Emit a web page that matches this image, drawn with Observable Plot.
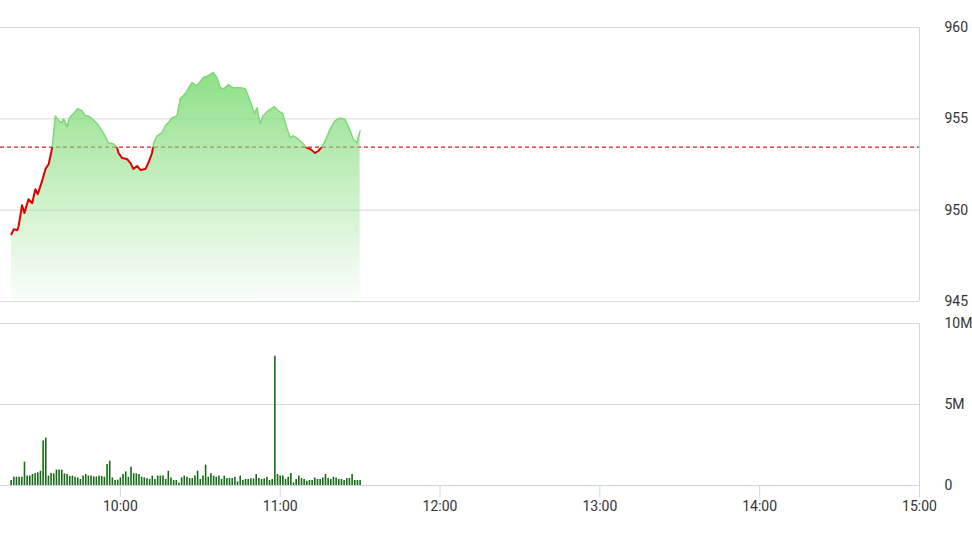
<!DOCTYPE html>
<html>
<head>
<meta charset="utf-8">
<script src="https://cdn.jsdelivr.net/npm/d3@7"></script>
<script src="https://cdn.jsdelivr.net/npm/@observablehq/plot@0.6"></script>
<style>
  body { margin: 0; background: #fff; }
  #chart svg { display: block; }
</style>
</head>
<body>
<div id="chart"></div>
<script>
// ---- data (time = minutes after 09:00) ----
const priceMinute = [19.1,20.0,21.3,21.8,23.1,24.0,25.5,26.9,28.1,29.0,
  30.6,31.9,33.1,34.4,35.6,36.9,38.1,38.7,40.0,40.9,
  42.4,44.0,45.6,46.9,48.0,49.4,51.3,53.6,55.5,57.4,
  58.8,59.3,60.6,62.5,63.8,64.9,66.3,67.5,69.4,70.5,
  71.9,72.5,73.8,75.6,76.9,78.0,79.4,81.3,82.5,84.4,
  86.9,88.8,91.1,93.0,94.9,96.3,97.5,99.0,100.5,102.4,
  105.0,106.9,108.0,109.4,110.3,111.3,112.5,113.6,115.5,117.8,
  119.3,121.0,122.6,123.8,124.9,126.8,128.6,130.0,131.3,133.1,
  134.3,135.6,136.9,138.8,140.6,142.5,144.4,146.3,147.4,148.8,150.0];
const priceValue = [948.68,948.96,948.90,949.12,950.27,949.84,950.60,950.38,951.15,950.88,
  951.59,952.25,952.53,953.41,955.16,954.89,954.78,955.00,954.56,955.05,
  955.27,955.55,955.44,955.16,955.16,955.00,954.73,954.23,953.68,953.63,
  953.41,953.13,952.86,952.80,952.58,952.25,952.42,952.20,952.25,952.58,
  953.13,953.68,954.07,954.23,954.62,954.78,955.05,955.16,956.10,956.37,
  956.98,956.81,957.25,957.36,957.53,957.25,956.70,956.65,956.87,956.70,
  956.70,956.65,956.26,955.71,955.27,955.60,954.73,955.16,955.44,955.66,
  955.44,955.27,954.45,953.96,954.07,953.90,953.63,953.41,953.35,953.13,
  953.24,953.46,953.79,954.45,954.89,955.05,954.95,954.34,953.90,953.68,954.34];
const referencePrice = 953.45;

const volumeStart = "09:19"; // first one-minute bar
const volumeMillions = [0.31,0.51,0.51,0.51,0.51,1.44,0.58,0.58,0.68,0.74,
  0.78,0.88,2.74,2.92,0.58,0.74,0.72,0.95,0.95,0.95,
  0.72,0.68,0.56,0.58,0.51,0.47,0.37,0.58,0.68,0.58,
  0.58,0.53,0.53,0.58,0.56,0.51,1.30,1.50,0.47,0.31,
  0.33,0.47,0.68,0.84,0.51,1.13,0.72,0.72,0.68,0.51,
  0.47,0.41,0.37,0.58,0.37,0.58,0.58,0.58,0.37,0.88,
  0.47,0.31,0.31,0.16,0.47,0.58,0.51,0.43,0.43,0.58,
  0.88,0.37,0.58,1.26,0.51,0.72,0.58,0.51,0.58,0.37,
  0.58,0.43,0.43,0.43,0.51,0.23,0.58,0.31,0.37,0.37,
  0.41,0.41,0.68,0.43,0.37,0.41,0.51,0.31,0.37,7.98,
  0.68,0.58,0.58,0.37,0.51,0.74,0.16,0.37,0.58,0.43,
  0.37,0.27,0.31,0.31,0.47,0.37,0.37,0.47,0.68,0.43,
  0.37,0.51,0.47,0.37,0.37,0.31,0.43,0.43,0.68,0.31,
  0.31,0.31];

const hourTicks = [60, 120, 180, 240, 300, 360];
const hourLabels = ["10:00", "11:00", "12:00", "13:00", "14:00", "15:00"];
const priceTicks = [945, 950, 955, 960];
const priceTickLabels = ["945", "950", "955", "960"];
const volumeTicks = [0, 5, 10];
const volumeTickLabels = ["0", "5M", "10M"];
const xDomain = [15, 360]; // 09:15 .. 15:00

// ---- tables ----
const price = priceMinute.map((t, i) => ({t, v: priceValue[i]}));
const [sh, sm] = volumeStart.split(":").map(Number);
const startMin = (sh - 9) * 60 + sm;
const volume = volumeMillions.map((v, i) => ({t: startMin + i, v}));

const W = 972;
const baseStyle = {fontFamily: "Roboto, 'Liberation Sans', sans-serif", fontSize: "14px", color: "#333", background: "#fff", overflow: "visible"};

const topChart = Plot.plot({
  width: W, height: 310,
  marginTop: 27, marginBottom: 9, marginLeft: 0, marginRight: 53,
  style: baseStyle,
  x: {domain: xDomain, axis: null},
  y: {domain: [945, 960], axis: "right", ticks: priceTicks,
      tickFormat: d => priceTickLabels[priceTicks.indexOf(d)],
      tickSize: 0, tickPadding: 25, label: null},
  marks: [
    Plot.ruleY(priceTicks, {stroke: "#d9d9d9"}),
    Plot.ruleX([xDomain[1]], {stroke: "#ccd6eb"}),
    Plot.ruleY([referencePrice], {stroke: "#e31b1b", strokeDasharray: "4,3", strokeWidth: 1.3}),
    Plot.areaY(price, {x: "t", y1: 945, y2: "v", fill: "url(#priceGrad)"}),
    Plot.line(price, {x: "t", y: "v", stroke: "#7fd877", strokeWidth: 1.5}),
    Plot.line(price, {x: "t", y: "v", stroke: "#e00000", strokeWidth: 2})
  ]
});

const bottomChart = Plot.plot({
  width: W, height: 236,
  marginTop: 13, marginBottom: 61, marginLeft: 0, marginRight: 53,
  style: baseStyle,
  x: {domain: xDomain, ticks: hourTicks,
      tickFormat: d => hourLabels[hourTicks.indexOf(d)],
      tickSize: 12, tickPadding: 4, label: null},
  y: {domain: [0, 10], axis: "right", ticks: volumeTicks,
      tickFormat: d => volumeTickLabels[volumeTicks.indexOf(d)],
      tickSize: 0, tickPadding: 25, label: null},
  marks: [
    Plot.ruleY([5, 10], {stroke: "#d9d9d9"}),
    Plot.ruleX([xDomain[1]], {stroke: "#ccd6eb"}),
    Plot.ruleY([0], {stroke: "#ccd6eb"}),
    Plot.ruleX(volume, {x: "t", y1: 0, y2: "v", stroke: "#146c14", strokeWidth: 1.6})
  ]
});

// ---- defs: gradient + clip regions split at the reference price ----
const refY = topChart.scale("y").apply(referencePrice);
const ns = "http://www.w3.org/2000/svg";
const defs = document.createElementNS(ns, "defs");
defs.innerHTML =
  `<linearGradient id="priceGrad" x1="0" y1="0" x2="0" y2="1">
     <stop offset="0" stop-color="#7ddb74" stop-opacity="0.88"></stop>
     <stop offset="1" stop-color="#8fe088" stop-opacity="0.04"></stop>
   </linearGradient>
   <clipPath id="clipAbove"><rect x="0" y="0" width="${W}" height="${refY}"></rect></clipPath>
   <clipPath id="clipBelow"><rect x="0" y="${refY}" width="${W}" height="${310 - refY}"></rect></clipPath>`;
topChart.insertBefore(defs, topChart.firstChild);
const lines = topChart.querySelectorAll('g[aria-label="line"]');
if (lines.length >= 2) {
  lines[0].setAttribute("clip-path", "url(#clipAbove)");
  lines[1].setAttribute("clip-path", "url(#clipBelow)");
}
bottomChart.querySelectorAll('g[aria-label^="x-axis"] line, g[aria-label^="x-axis"] path')
  .forEach(e => e.setAttribute("stroke", "#ccd6eb"));
bottomChart.querySelectorAll('g[aria-label="x-axis tick"]')
  .forEach(e => e.setAttribute("stroke", "#ccd6eb"));

const host = document.getElementById("chart");
host.appendChild(topChart);
host.appendChild(bottomChart);
</script>
</body>
</html>
